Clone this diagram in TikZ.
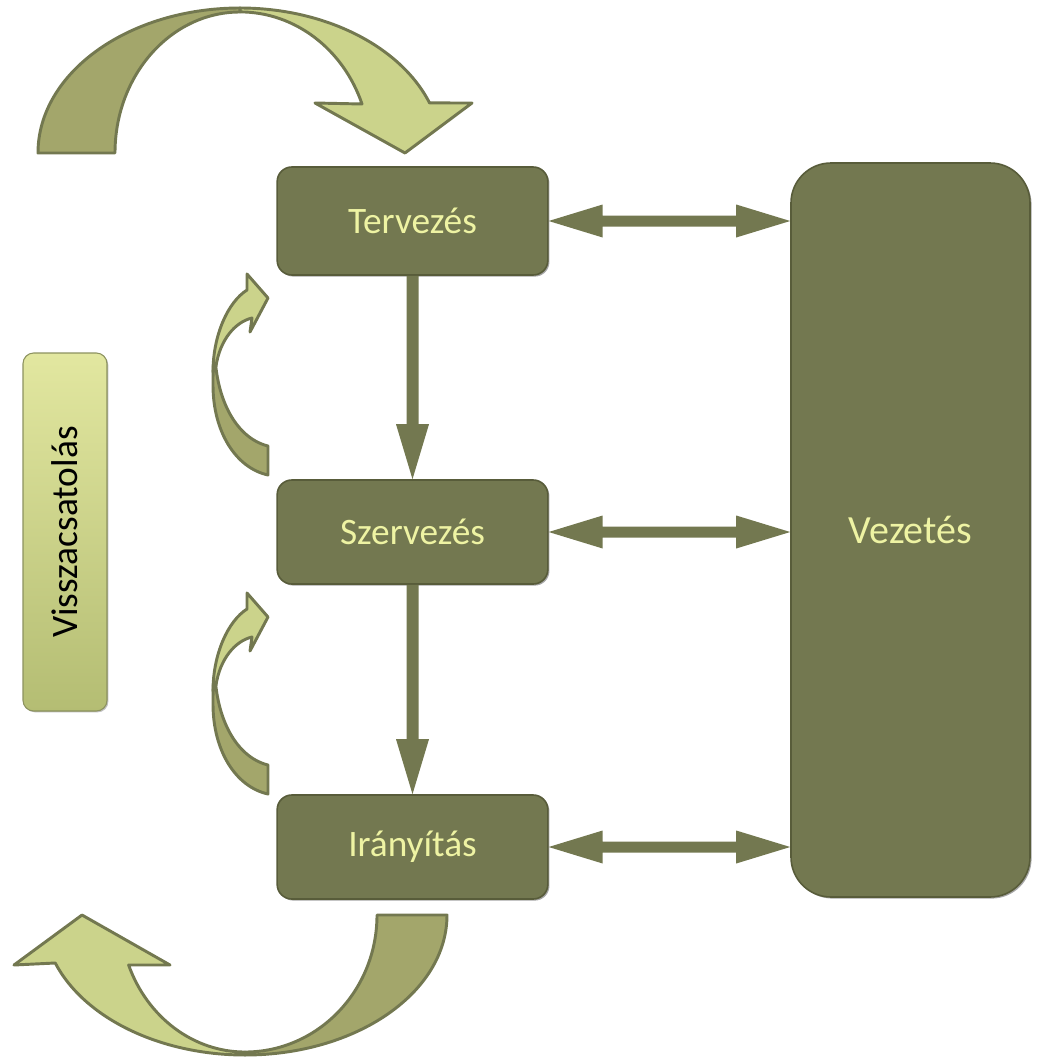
\documentclass[tikz,border=0pt]{standalone}
\usepackage{fontspec}
\setmainfont{Carlito}
\usetikzlibrary{calc,shadows}
\definecolor{boxfill}{RGB}{115,120,80}
\definecolor{boxline}{RGB}{88,92,58}
\definecolor{boxtext}{RGB}{238,243,163}
\definecolor{arrdark}{RGB}{163,166,107}
\definecolor{arrlight}{RGB}{203,211,139}
\definecolor{fbtop}{RGB}{226,231,160}
\definecolor{fbbot}{RGB}{180,189,115}
\definecolor{fbline}{RGB}{140,146,95}
\tikzset{
  stagebox/.style={draw=boxline, line width=1.2pt, fill=boxfill, rounded corners=11pt,
    text=boxtext, font=\fontsize{28}{32}\selectfont, minimum width=203pt, inner sep=0pt,
    drop shadow={shadow xshift=1.2pt, shadow yshift=-1.2pt, opacity=0.35, fill=black}},
  fbbox/.style={draw=fbline, line width=0.8pt, rounded corners=8pt, top color=fbtop, bottom color=fbbot,
    text=black, font=\fontsize{28}{32}\selectfont, inner sep=0pt,
    drop shadow={shadow xshift=1pt, shadow yshift=-1pt, opacity=0.25, fill=black}},
  connarrow/.style={fill=boxfill, draw=none},
  curvedark/.style={fill=arrdark, draw=boxfill, line width=2.2pt, line join=round},
  curvelight/.style={fill=arrlight, draw=boxfill, line width=2.2pt, line join=round},
}
\newcommand\mydownarrow[2]{%
  \fill[connarrow] ($(#1.south)+(-6,0)$) -- ($(#2.north)+(-6,-55)$) -- ($(#2.north)+(-16.5,-55)$)
    -- (#2.north) -- ($(#2.north)+(16.5,-55)$) -- ($(#2.north)+(6,-55)$) -- ($(#1.south)+(6,0)$) -- cycle;}
\newcommand\mydblarrow[2]{%
  \coordinate (dA) at (#1.east);
  \coordinate (dB) at (#1.east -| #2.west);
  \fill[connarrow] (dA) -- ($(dA)+(54,-16.5)$) -- ($(dA)+(54,-5.5)$) -- ($(dB)+(-54,-5.5)$)
    -- ($(dB)+(-54,-16.5)$) -- (dB) -- ($(dB)+(-54,16.5)$) -- ($(dB)+(-54,5.5)$)
    -- ($(dA)+(54,5.5)$) -- ($(dA)+(54,16.5)$) -- cycle;}
\begin{document}
\begin{tikzpicture}[x=0.75pt,y=-0.75pt]
\useasboundingbox (0,0) rectangle (1036,1060);

% nodes
\node[stagebox, minimum height=81pt] (terv) at (412.5,221) {Tervezés};
\node[stagebox, minimum height=78pt] (szer) at (412.5,532) {Szervezés};
\node[stagebox, minimum height=78pt] (iran) at (412.5,847) {Irányítás};
\node[stagebox, rounded corners=30pt, minimum width=179.25pt, minimum height=550.5pt,
      font=\fontsize{30}{34}\selectfont] (vez) at (910.5,530) {Vezetés};
\node[fbbox, rotate=90, minimum width=268.5pt, minimum height=63pt] (fb) at (65,532) {Visszacsatolás};

% straight connectors
\mydownarrow{terv}{szer}
\mydownarrow{szer}{iran}
\mydblarrow{terv}{vez}
\mydblarrow{szer}{vez}
\mydblarrow{iran}{vez}

% top curved arrow
\draw[curvedark] (38,153) arc[start angle=180,end angle=270,x radius=202,y radius=145]
  -- (240,12) arc[start angle=270,end angle=180,x radius=125,y radius=141] -- cycle;
\draw[curvelight] (240,8) arc[start angle=270,end angle=339.8,x radius=202,y radius=145]
  -- (472,103) -- (405,153) -- (315,103) -- (362,104)
  arc[start angle=339.7,end angle=270,x radius=130,y radius=141] -- cycle;

% bottom curved arrow
\draw[curvedark] (447,915) arc[start angle=0,end angle=90,x radius=202,y radius=140]
  -- (245,1052) arc[start angle=90,end angle=0,x radius=132,y radius=137] -- cycle;
\draw[curvelight] (245,1055) arc[start angle=90,end angle=159.95,x radius=202,y radius=140]
  -- (14,965) -- (82,915) -- (170,965) -- (128.6,965)
  arc[start angle=158.6,end angle=90,x radius=125,y radius=137] -- cycle;

% small curved arrows
\foreach \dy in {0,319}{
\begin{scope}[shift={(0,\dy)}]
\draw[curvedark] (268,475) .. controls (236,468) and (213,432) .. (213,385)
  .. controls (213,372) and (213,365) .. (215,356)
  .. controls (217,400) and (236,438) .. (268,446) -- cycle;
\draw[curvelight] (213,372) .. controls (213,335) and (228,302) .. (247,290)
  -- (247,274) -- (268,298) -- (250,332) -- (252,318)
  .. controls (235,322) and (220,340) .. (216,366) -- cycle;
\end{scope}}
\end{tikzpicture}
\end{document}
